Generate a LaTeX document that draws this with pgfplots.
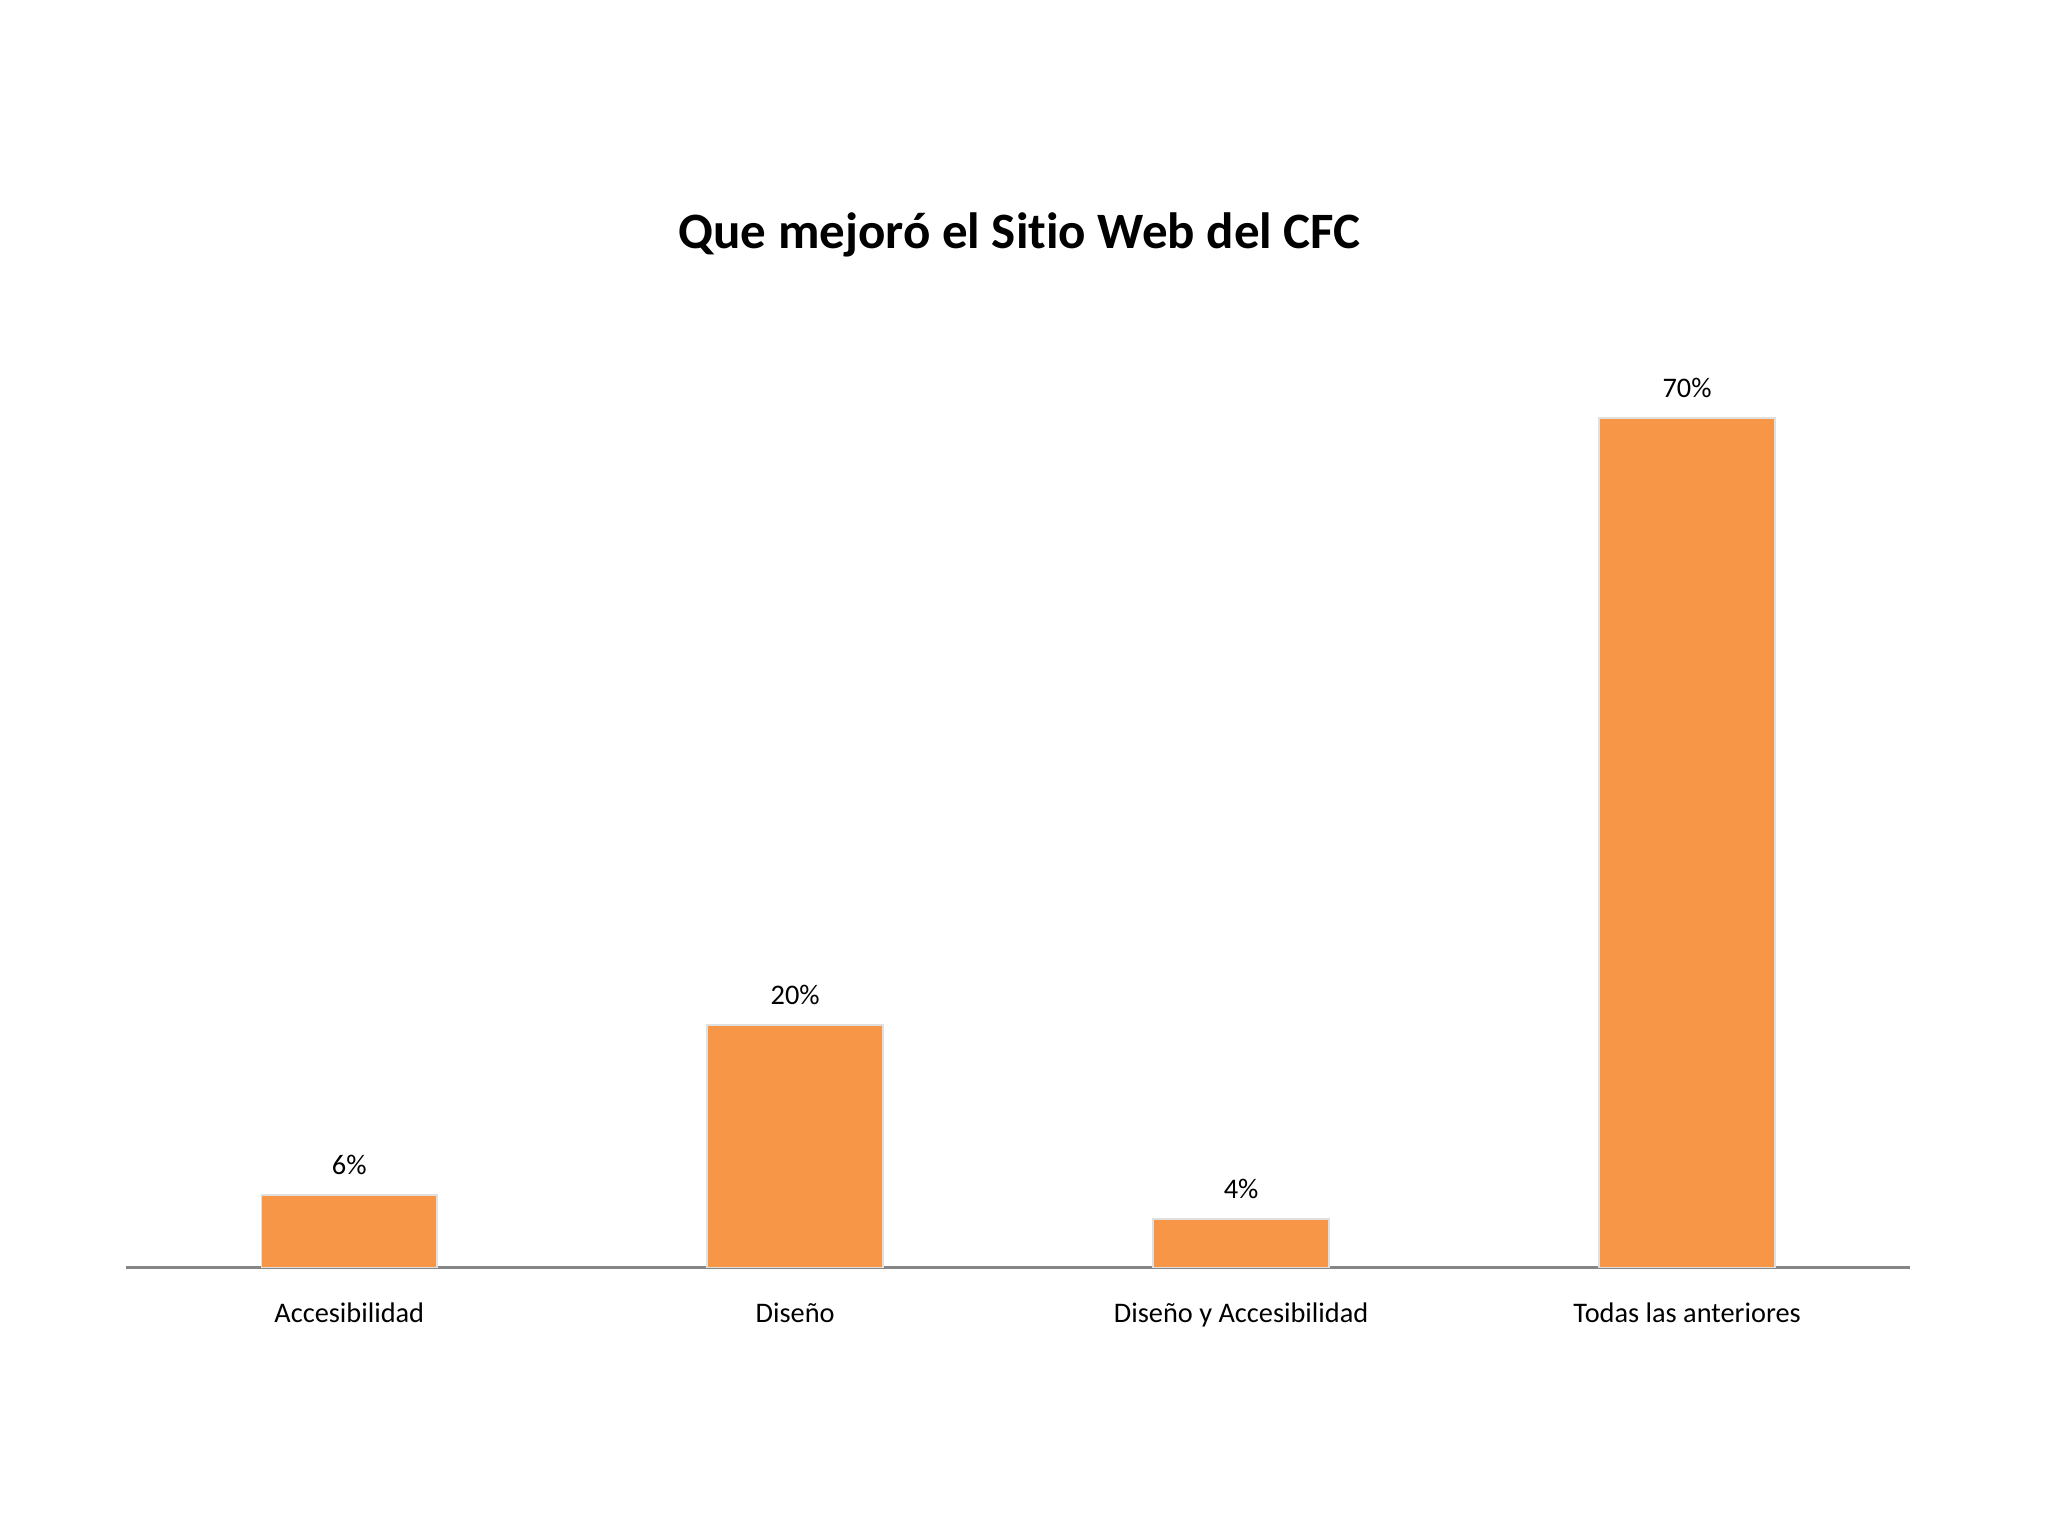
\documentclass[border=0pt]{standalone}
\usepackage{pgfplots}
\pgfplotsset{compat=1.18}
\usepackage{fontspec}
\setmainfont{Carlito}[Ligatures=NoCommon]
\definecolor{barorange}{HTML}{F79646}
\definecolor{axisgray}{HTML}{868686}
\begin{document}
\begin{tikzpicture}[x=1bp,y=1bp]
\path (0,0) rectangle (720,540);
\node[font=\bfseries\fontsize{18}{21}\selectfont] at (358.5,457.3) {Que mejoró el Sitio Web del CFC};
\begin{axis}[
  at={(44.4bp,94.4bp)}, anchor=south west,
  scale only axis, width=627.1bp, height=341.3bp,
  xmin=-0.5, xmax=3.5, ymin=0, ymax=80,
  axis x line=bottom, axis y line=none,
  x axis line style={axisgray, line width=0.75pt, -},
  ybar, bar width=61.8bp,
  xtick={0,1,2,3}, major tick length=0pt,
  xticklabels={Accesibilidad, Diseño, Diseño y Accesibilidad, Todas las anteriores},
  xticklabel style={font=\fontsize{10}{12}\selectfont, yshift=-9bp},
  nodes near coords={\pgfmathprintnumber{\pgfplotspointmeta}\%},
  nodes near coords style={font=\fontsize{10}{12}\selectfont, yshift=3.5bp},
  /pgf/number format/assume math mode=true,
]
\addplot[fill=barorange, draw=black!12, line width=0.6pt] coordinates {
  (0,6) (1,20) (2,4) (3,70)
};
\end{axis}
\end{tikzpicture}
\end{document}
